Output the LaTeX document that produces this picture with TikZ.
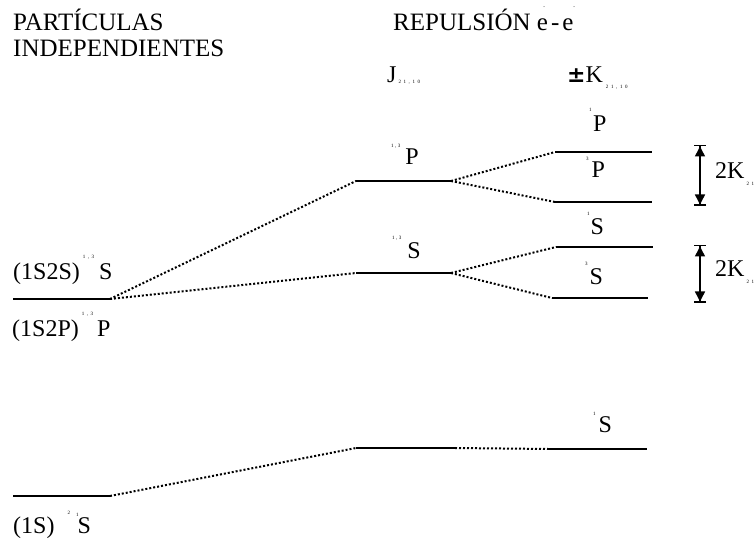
\documentclass[tikz,border=0pt]{standalone}
\usepackage{fontspec}
\setmainfont{Liberation Serif}
\newfontfamily\symfont{DejaVu Sans}
\usetikzlibrary{arrows.meta}
\newcommand{\up}[2]{\raisebox{#1}{\fontsize{5}{6}\selectfont #2}}
\newcommand{\dn}[2]{\raisebox{-#1}{\fontsize{5}{6}\selectfont #2}}
\newcommand{\sg}{\hspace{2.6pt}}
\newcommand{\ot}{1\hspace{1.5pt},\hspace{1.5pt}3}
\newcommand{\otw}{1\hspace{2.5pt},\hspace{2.5pt}3}
\newcommand{\subl}{2\sg1\sg,\sg1\sg0}
\begin{document}
\begin{tikzpicture}[x=1pt,y=-1pt,
  txt/.style={anchor=base west,inner sep=0pt,font=\fontsize{24}{28}\selectfont},
  hdr/.style={anchor=base west,inner sep=0pt,font=\fontsize{25}{29}\selectfont},
  level/.style={line width=1.9pt},
  conn/.style={line width=2pt,dash pattern=on 2pt off 2pt},
  gap/.style={line width=1.5pt,
    {Bar[width=12pt,line width=1.5pt]Triangle[width=10pt,length=10pt]}-{Triangle[width=10pt,length=10pt]Bar[width=12pt,line width=1.5pt]}}]
\useasboundingbox (0,0) rectangle (756,545);

% headers
\node[hdr] (h1) at (13,31) {PARTÍCULAS};
\node[hdr] (h2) at (13,57) {INDEPENDIENTES};
\node[hdr] (h3) at (393,31) {REPULSIÓN e\llap{\up{22pt}{-}\kern3pt}\kern3pt-\kern3pt e\up{22pt}{-}};
\node[txt] (jlab) at (387,83) {J\kern2pt\dn{1pt}{\subl}};
\node[txt] (klab) at (567,83) {{\symfont\bfseries\fontsize{22}{26}\selectfont ±}K\kern3pt\dn{6pt}{\subl}};

% level coordinates
\coordinate (gla) at (13,496);  \coordinate (glb) at (110,496);
\coordinate (gma) at (356,448); \coordinate (gmb) at (455,448);
\coordinate (gra) at (548,449); \coordinate (grb) at (647,449);
\coordinate (ela) at (13,299);  \coordinate (elb) at (110,299);
\coordinate (mpa) at (356,181); \coordinate (mpb) at (451,181);
\coordinate (msa) at (356,273); \coordinate (msb) at (451,273);
\coordinate (r1pa) at (555,152); \coordinate (r1pb) at (652,152);
\coordinate (r3pa) at (555,202); \coordinate (r3pb) at (652,202);
\coordinate (r1sa) at (556,247); \coordinate (r1sb) at (653,247);
\coordinate (r3sa) at (552,298); \coordinate (r3sb) at (648,298);

% levels
\draw[level] (gla) -- (glb);
\draw[level] (gma) -- (gmb);
\draw[level] (gra) -- (grb);
\draw[level] (ela) -- (elb);
\draw[level] (mpa) -- (mpb);
\draw[level] (msa) -- (msb);
\draw[level] (r1pa) -- (r1pb);
\draw[level] (r3pa) -- (r3pb);
\draw[level] (r1sa) -- (r1sb);
\draw[level] (r3sa) -- (r3sb);

% connectors
\draw[conn] (glb) -- (gma);
\draw[conn] (gmb) -- (gra);
\draw[conn] (elb) -- (mpa);
\draw[conn] (elb) -- (msa);
\draw[conn] (mpb) -- (r1pa);
\draw[conn] (mpb) -- (r3pa);
\draw[conn] (msb) -- (r1sa);
\draw[conn] (msb) -- (r3sa);

% splitting arrows
\coordinate (k1t) at (700,145); \coordinate (k1b) at (700,206);
\coordinate (k2t) at (700,245); \coordinate (k2b) at (700,303);
\draw[gap] (k1t) -- (k1b);
\draw[gap] (k2t) -- (k2b);
\node[txt] (k1lab) at (715,179) {2K\kern2pt\dn{7pt}{\subl}};
\node[txt] (k2lab) at (715,277) {2K\kern2pt\dn{7pt}{\subl}};

% level labels
\node[txt] (lmp) at (391,165) {\up{17pt}{\ot}\kern5pt P};
\node[txt] (lms) at (392,259) {\up{19pt}{\ot}\kern6pt S};
\node[txt] (lr1p) at (589,132) {\up{20pt}{1}\kern1.5pt P};
\node[txt] (lr3p) at (586,178) {\up{17pt}{3}\kern3pt P};
\node[txt] (lr1s) at (587,235) {\up{19pt}{1}\kern1pt S};
\node[txt] (lr3s) at (585,285) {\up{19pt}{3}\kern2pt S};
\node[txt] (lgr) at (593,433) {\up{17pt}{1}\kern3pt S};
\node[txt] (lel1) at (13,280) {(1S2S)\kern3pt\up{21pt}{\otw}\kern5pt S};
\node[txt] (lel2) at (12,337) {(1S2P)\kern3pt\up{21pt}{\otw}\kern4pt P};
\node[txt] (lgl) at (13,533) {(1S)\kern13pt\up{18.5pt}{2}\kern6pt\up{16.5pt}{1}\kern-1pt S};
\end{tikzpicture}
\end{document}
